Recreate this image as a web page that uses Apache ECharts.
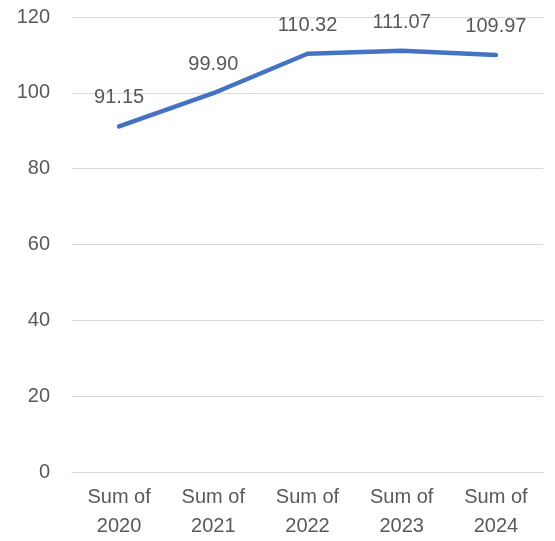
<!DOCTYPE html>
<html>
<head>
<meta charset="utf-8">
<script src="https://cdn.jsdelivr.net/npm/echarts@6/dist/echarts.min.js"></script>
<style>
  html, body { margin: 0; padding: 0; background: #fff; }
  #chart { width: 555px; height: 541px; }
</style>
</head>
<body>
<div id="chart"></div>
<script>
var categories = ['Sum of\n2020', 'Sum of\n2021', 'Sum of\n2022', 'Sum of\n2023', 'Sum of\n2024'];
var values = [91.15, 99.90, 110.32, 111.07, 109.97];

var chart = echarts.init(document.getElementById('chart'));
var textColor = '#595959';
var fontFamily = '"Liberation Sans", Arial, sans-serif';

var option = {
    animation: false,
    grid: {
        left: 72,
        right: 12,
        top: 17,
        bottom: 68
    },
    xAxis: {
        type: 'category',
        data: categories,
        boundaryGap: true,
        axisLine: { lineStyle: { color: '#d9d9d9', width: 1 } },
        axisTick: { alignWithLabel: true, length: 5, lineStyle: { color: '#bfbfbf' } },
        axisLabel: {
            color: textColor,
            fontFamily: fontFamily,
            fontSize: 20,
            lineHeight: 29,
            margin: 11
        }
    },
    yAxis: {
        type: 'value',
        min: 0,
        max: 120,
        interval: 20,
        axisLine: { show: false },
        axisTick: { show: false },
        splitLine: { lineStyle: { color: '#d9d9d9', width: 1 } },
        axisLabel: {
            color: textColor,
            fontFamily: fontFamily,
            fontSize: 20,
            margin: 22
        }
    },
    series: [
        {
            type: 'line',
            data: values,
            symbol: 'circle',
            symbolSize: 3,
            showSymbol: true,
            itemStyle: { color: '#4472C4' },
            lineStyle: { color: '#4472C4', width: 4.5, cap: 'round', join: 'round' },
            label: {
                show: true,
                position: 'top',
                distance: 16,
                color: textColor,
                fontFamily: fontFamily,
                fontSize: 20,
                lineHeight: 22,
                formatter: function (p) { return p.value.toFixed(2); }
            }
        }
    ]
};
chart.setOption(option);
</script>
</body>
</html>
